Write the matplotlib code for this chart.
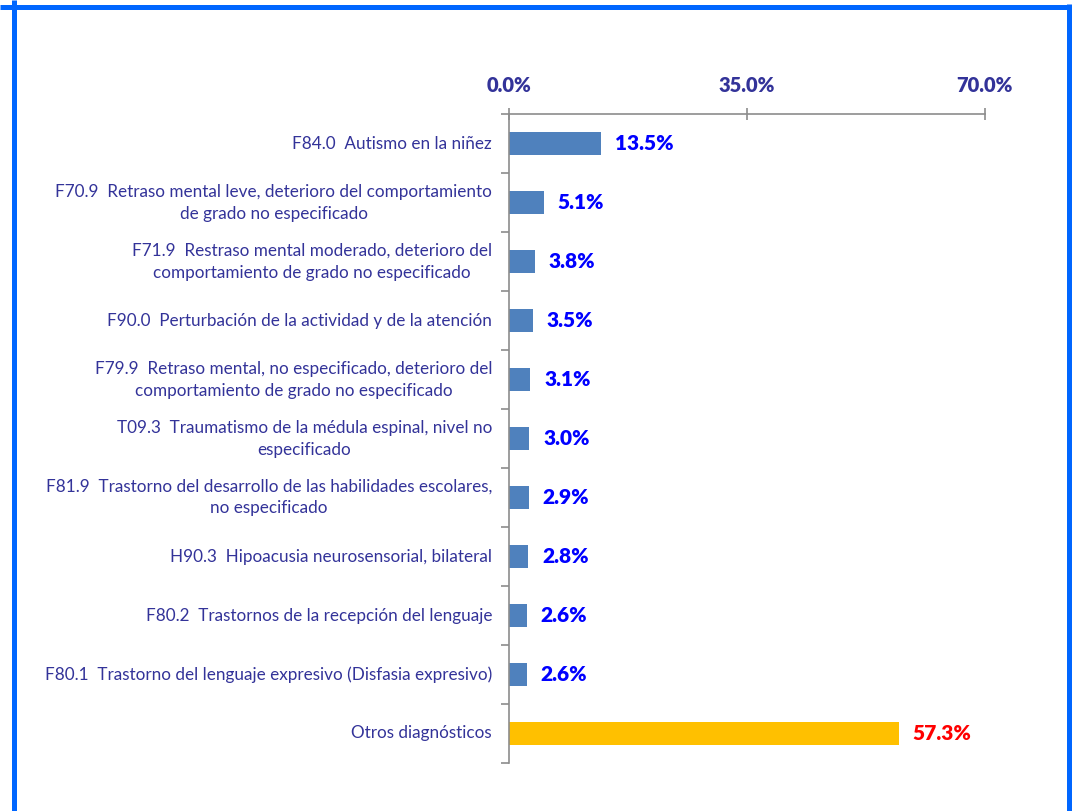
import matplotlib
matplotlib.use("Agg")
import matplotlib.pyplot as plt
from matplotlib.lines import Line2D

# Diagnoses (top to bottom) and their share of cases, in %
diagnosticos = [
    "F84.0  Autismo en la niñez",
    "F70.9  Retraso mental leve, deterioro del comportamiento\nde grado no especificado",
    "F71.9  Restraso mental moderado, deterioro del\ncomportamiento de grado no especificado",
    "F90.0  Perturbación de la actividad y de la atención",
    "F79.9  Retraso mental, no especificado, deterioro del\ncomportamiento de grado no especificado",
    "T09.3  Traumatismo de la médula espinal, nivel no\nespecificado",
    "F81.9  Trastorno del desarrollo de las habilidades escolares,\nno especificado",
    "H90.3  Hipoacusia neurosensorial, bilateral",
    "F80.2  Trastornos de la recepción del lenguaje",
    "F80.1  Trastorno del lenguaje expresivo (Disfasia expresivo)",
    "Otros diagnósticos",
]
porcentajes = [13.5, 5.1, 3.8, 3.5, 3.1, 3.0, 2.9, 2.8, 2.6, 2.6, 57.3]
ticks_x = [0.0, 35.0, 70.0]

plt.rcParams['font.family'] = ['Lato', 'DejaVu Sans']

fig = plt.figure(figsize=(10.74, 8.11), dpi=100)
ax = fig.add_axes([0.474, 0.0592, 0.443, 0.8000])

n = len(porcentajes)
y = list(range(n))
colores = ['#4F81BD'] * (n - 1) + ['#FFC000']
ax.barh(y, porcentajes, height=0.39, color=colores)

for yi, v in zip(y, porcentajes):
    ax.annotate(f"{v:.1f}%", xy=(v, yi), xytext=(10, 0), textcoords='offset points',
                ha='left', va='center', fontsize=15, fontweight='heavy',
                color='#FF0000' if yi == n - 1 else '#0000FF')

ax.set_xlim(0, 70)
ax.set_ylim(n - 0.5, -0.5)
ax.xaxis.tick_top()
ax.set_xticks(ticks_x)
ax.set_xticklabels([f"{t:.1f}%" for t in ticks_x], fontsize=14.5, fontweight='heavy', color='#333399')
ax.tick_params(axis='x', direction='inout', length=8, width=1.2, color='#8C8C8C', pad=10)

ax.set_yticks([i + 0.5 for i in range(-1, n)])
ax.set_yticklabels([])
ax.tick_params(axis='y', direction='out', length=6, width=1.2, color='#8C8C8C')
for yi, lab in zip(y, diagnosticos):
    ax.text(-2.5, yi, lab, ha='right', va='center', multialignment='center',
            fontsize=12.3, color='#333399', linespacing=1.45)

for s in ['right', 'bottom']:
    ax.spines[s].set_visible(False)
for s in ['left', 'top']:
    ax.spines[s].set_color('#8C8C8C')
    ax.spines[s].set_linewidth(1.2)

# blue frame around the chart
W, H = 1074, 811
frame = dict(color='#0066FF', linewidth=3.6, transform=fig.transFigure, solid_capstyle='butt')
fig.add_artist(Line2D([0, 1071 / W], [1 - 6.5 / H] * 2, **frame))
fig.add_artist(Line2D([14.3 / W] * 2, [0, 1], **frame))
fig.add_artist(Line2D([1068.5 / W] * 2, [0, 1 - 4 / H], **frame))

fig.savefig("out.png", dpi=100)
